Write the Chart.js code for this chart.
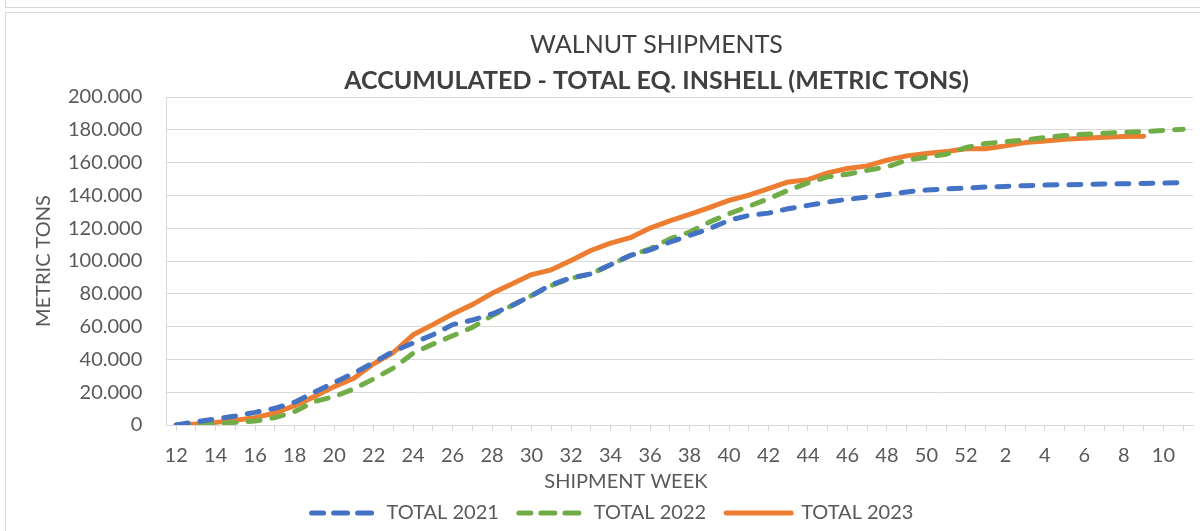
<!DOCTYPE html>
<html>
<head>
<meta charset="utf-8">
<title>Walnut shipments</title>
<script src="https://cdn.jsdelivr.net/npm/chart.js@4.4.0/dist/chart.umd.min.js"></script>
<style>
  html, body { margin: 0; padding: 0; background: #fff; }
  #wrap { position: relative; width: 1200px; height: 531px; overflow: hidden; }
  .prevFrame { position: absolute; left: 5px; top: -2px; width: 1300px; height: 9px; border: 1px solid #d9d9d9; border-top: none; }
  .frame { position: absolute; left: 5px; top: 12px; width: 1300px; height: 600px; border: 1px solid #d9d9d9; }
  #box { position: absolute; left: 0; top: 0; width: 1200px; height: 531px; }
</style>
</head>
<body>
<div id="wrap">
  <div class="prevFrame"></div>
  <div class="frame"></div>
  <div id="box"><canvas id="myChart"></canvas></div>
</div>
<script>
"use strict";

// shipment weeks, marketing year runs week 12 -> week 11 of next year
var weeks = ['12','13','14','15','16','17','18','19','20','21','22','23','24','25','26','27','28','29','30','31',
  '32','33','34','35','36','37','38','39','40','41','42','43','44','45','46','47','48','49','50','51','52',
  '1','2','3','4','5','6','7','8','9','10','11'];

var total2021 = [0, 2000, 3700, 5500, 7700, 10200, 13900, 20000, 25900, 31600, 38100, 44900, 50000, 55000, 61200,
  64000, 67700, 72800, 78900, 85600, 89700, 92100, 97700, 103400, 106800, 111500, 115600, 119700, 124800, 127800,
  129200, 131900, 133900, 136000, 137600, 139000, 140500, 142100, 143300, 143900, 144500,
  145100, 145500, 145900, 146300, 146500, 146700, 146900, 147100, 147300, 147500, 147900];

var total2022 = [0, 200, 800, 1600, 2400, 4500, 8200, 14300, 17300, 22000, 28100, 34700, 43800, 49300, 54400,
  59500, 66700, 72800, 78900, 85000, 89500, 92100, 97700, 103400, 107400, 113500, 117600, 123700, 128800, 133300,
  138000, 143100, 147600, 151300, 152900, 155300, 157400, 161500, 163300, 165100, 169200,
  171600, 172800, 173800, 175300, 176500, 177300, 177900, 178500, 178900, 179600, 180400];

var total2023 = [0, 600, 1600, 2900, 4500, 7300, 11800, 17300, 23400, 28500, 37300, 44200, 55000, 61200, 67700,
  73400, 80300, 86000, 91700, 94600, 100300, 106400, 110900, 114200, 120100, 124500, 128500, 132500, 137000, 140100,
  144100, 148200, 149600, 153700, 156400, 158000, 161500, 164100, 165600, 166700, 168500,
  168500, 170200, 172200, 173200, 174300, 174900, 175500, 175900, 176100];

var yMax = 200000;
var yStep = 20000;

var FONT = 'Lato, "Open Sans", sans-serif';

function fmt(v) {
  if (v === 0) return '0';
  return String(v).replace(/\B(?=(\d{3})+(?!\d))/g, '.');
}

// excel puts the titles and legend a little off the plot centre
var nudge = {
  id: 'nudge',
  afterLayout: function(chart) {
    chart.boxes.forEach(function(b) {
      if (b.position === 'top' && b.fullSize) { b.left += 44; b.right += 44; }
    });
    chart.legend.top -= 11;
    chart.legend.bottom -= 11;
  }
};

var ctx = document.getElementById('myChart').getContext('2d');

var myChart = new Chart(ctx, {
  type: 'line',
  data: {
    labels: weeks,
    datasets: [
      {
        label: 'TOTAL 2021',
        data: total2021,
        borderColor: '#4472C4',
        backgroundColor: '#4472C4',
        borderWidth: 5,
        borderDash: [12, 12],
        borderCapStyle: 'round',
        borderJoinStyle: 'round',
        pointRadius: 0,
        tension: 0,
        fill: false
      },
      {
        label: 'TOTAL 2022',
        data: total2022,
        borderColor: '#70AD47',
        backgroundColor: '#70AD47',
        borderWidth: 5,
        borderDash: [12, 12],
        borderCapStyle: 'round',
        borderJoinStyle: 'round',
        pointRadius: 0,
        tension: 0,
        fill: false
      },
      {
        label: 'TOTAL 2023',
        data: total2023,
        borderColor: '#ED7D31',
        backgroundColor: '#ED7D31',
        borderWidth: 5,
        borderCapStyle: 'round',
        borderJoinStyle: 'round',
        pointRadius: 0,
        tension: 0,
        fill: false
      }
    ]
  },
  options: {
    responsive: true,
    maintainAspectRatio: false,
    animation: false,
    layout: { padding: { top: 30, left: 32, right: 7, bottom: -13 } },
    plugins: {
      title: {
        display: true,
        text: 'WALNUT SHIPMENTS',
        color: '#404040',
        font: { family: FONT, size: 25, weight: 'normal' },
        padding: { top: 0, bottom: 0 }
      },
      subtitle: {
        display: true,
        text: 'ACCUMULATED - TOTAL EQ. INSHELL (METRIC TONS)',
        color: '#404040',
        font: { family: FONT, size: 25, weight: 'bold' },
        padding: { top: 6, bottom: 1 }
      },
      legend: {
        position: 'bottom',
        labels: {
          color: '#595959',
          font: { family: FONT, size: 20 },
          boxWidth: 65,
          boxHeight: 0,
          padding: 20
        }
      },
      tooltip: { enabled: false }
    },
    scales: {
      x: {
        offset: true,
        grid: {
          offset: false,
          drawOnChartArea: false,
          drawTicks: true,
          tickLength: 6,
          color: '#d9d9d9'
        },
        border: { display: true, color: '#d9d9d9' },
        ticks: {
          autoSkip: false,
          maxRotation: 0,
          padding: 13,
          color: '#595959',
          font: { family: FONT, size: 20 },
          callback: function(value, index) {
            return index % 2 === 0 ? this.getLabelForValue(value) : '';
          }
        },
        title: {
          display: true,
          // trailing spaces push the title left, as in the excel chart
          text: 'SHIPMENT WEEK' + '\u00a0'.repeat(21),
          color: '#595959',
          font: { family: FONT, size: 20 },
          padding: { top: -11, bottom: 0 }
        }
      },
      y: {
        min: 0,
        max: yMax,
        grid: { color: '#d9d9d9', drawTicks: false },
        border: { display: true, color: '#d9d9d9' },
        ticks: {
          stepSize: yStep,
          padding: 24,
          color: '#595959',
          font: { family: FONT, size: 20 },
          callback: function(value) { return fmt(value); }
        },
        title: {
          display: true,
          text: 'METRIC TONS',
          color: '#595959',
          font: { family: FONT, size: 20 },
          padding: { top: 0, bottom: -12 }
        }
      }
    }
  },
  plugins: [nudge]
});
</script>
</body>
</html>
